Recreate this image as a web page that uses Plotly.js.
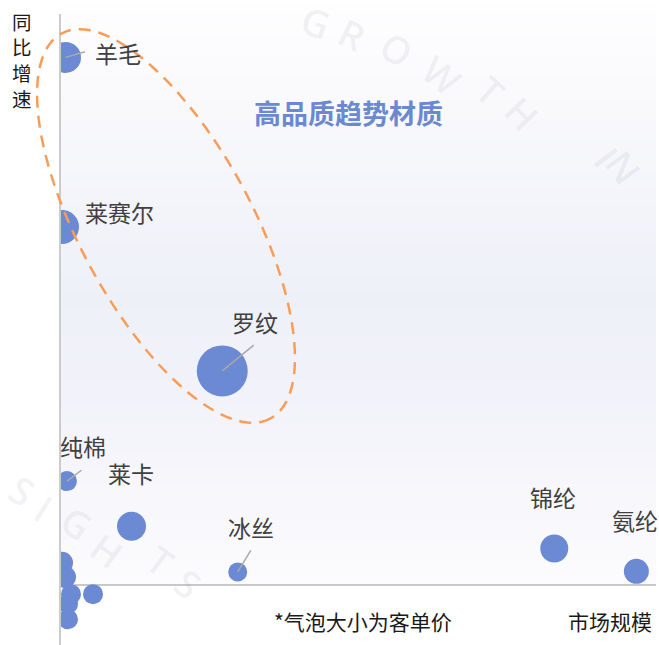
<!DOCTYPE html>
<html><head><meta charset="utf-8">
<script src="https://cdn.plot.ly/plotly-3.0.1.min.js"></script>
<style>html,body{margin:0;padding:0;background:#fff;}#chart{width:659px;height:645px;}</style>
</head><body><div id="chart"></div>
<script>
// ---- data ----
const materials  = ['羊毛', '莱赛尔', '罗纹', '纯棉', '莱卡', '冰丝', '锦纶', '氨纶'];
const marketSize = [0.76, 0.17, 27.1, 1.0, 11.85, 29.7, 82.9, 96.7];   // x: 市场规模
const yoyGrowth  = [92.4, 62.7, 37.5, 18.2, 10.3, 2.3, 6.4, 2.4];      // y: 同比增速
const unitPrice  = [31, 34, 51, 20, 29, 19, 28, 25];                   // bubble: 客单价

const otherMarketSize = [0.17, 0.67, 1.68, 1.18, 1.18, 5.38];
const otherGrowth     = [3.9, 1.4, -1.6, -3.3, -6.0, -1.6];
const otherUnitPrice  = [22, 22, 20, 20, 20, 20];

const yTitleChars = ['同', '比', '增', '速'];

// ---- layout helpers ----
const W = 659, H = 645, M = {l: 61, r: 3, t: 14, b: 0};
const plotW = W - M.l - M.r, plotH = H - M.t - M.b;
const px2paperX = px => (px - M.l) / plotW;
const px2paperY = py => (H - M.b - py) / plotH;
const FONT = '"Noto Sans CJK SC", "Noto Sans", sans-serif';
const BLUE = '#6b8ad3';

// label placement (pixel offsets from bubble centre)
const labelPos = {
  '羊毛':  {dx: 28.5, dy: 4.5,  lead: [21, -6]},
  '莱赛尔': {dx: 22,   dy: 15},
  '罗纹':  {dx: 8.5,  dy: 49,   lead: [33, -27]},
  '纯棉':  {dx: -8,   dy: 35,   lead: [16, -12]},
  '莱卡':  {dx: -24.5, dy: 53},
  '冰丝':  {dx: -10.5, dy: 45,  lead: [14, -23]},
  '锦纶':  {dx: -25,  dy: 51.5},
  '氨纶':  {dx: -25.5, dy: 51.5}
};

const traces = [
  {
    type: 'scatter', mode: 'markers',
    x: otherMarketSize, y: otherGrowth,
    marker: {size: otherUnitPrice, sizemode: 'diameter', sizeref: 1, color: BLUE, opacity: 1, line: {width: 0}},
    hoverinfo: 'skip', showlegend: false
  },
  {
    type: 'scatter', mode: 'markers',
    x: marketSize, y: yoyGrowth, text: materials,
    marker: {size: unitPrice, sizemode: 'diameter', sizeref: 1, color: BLUE, opacity: 1, line: {width: 0}},
    showlegend: false
  }
];

const annotations = [];

// faint watermark letters
const WM = 'rgba(60,60,80,0.07)';
const wmLetters = [
  ['G', 316, 22, 18], ['R', 352, 34, 26], ['O', 397, 49, 32], ['W', 442, 75, 38],
  ['T', 490, 90, 42], ['H', 522, 113, 46], ['I', 607, 157, 52], ['N', 624, 167, 54],
  ['S', 22, 490, 32], ['I', 44, 508, 32], ['G', 77, 523, 34], ['H', 107, 550, 36],
  ['T', 160, 560, 36], ['S', 188, 583, 36]
];
wmLetters.forEach(w => annotations.push({
  xref: 'paper', yref: 'paper', x: px2paperX(w[1]), y: px2paperY(w[2]),
  text: w[0], showarrow: false, textangle: w[3], xanchor: 'center', yanchor: 'middle',
  font: {family: '"Open Sans", sans-serif', size: 38, weight: 600, color: WM}
}));

materials.forEach((m, i) => {
  const p = labelPos[m];
  if (p.lead) {
    annotations.push({
      x: marketSize[i], y: yoyGrowth[i], xref: 'x', yref: 'y',
      ax: p.lead[0], ay: p.lead[1], text: '', showarrow: true,
      arrowhead: 0, arrowwidth: 1.5, arrowcolor: '#a9a9a9', standoff: 0, startstandoff: 0
    });
  }
  annotations.push({
    x: marketSize[i], y: yoyGrowth[i], xref: 'x', yref: 'y',
    text: m, showarrow: false, xanchor: 'left', yanchor: 'middle',
    xshift: p.dx, yshift: p.dy, borderpad: 0,
    font: {family: FONT, size: 23, color: '#404040'}
  });
});

yTitleChars.forEach((c, k) => annotations.push({
  xref: 'paper', yref: 'paper', x: px2paperX(21.5), y: px2paperY(21 + 25.8 * k),
  text: c, showarrow: false, xanchor: 'center', yanchor: 'middle', borderpad: 0,
  font: {family: FONT, size: 19.5, color: '#1a1a1a'}
}));

annotations.push(
  {xref: 'paper', yref: 'paper', x: px2paperX(363), y: px2paperY(621),
   text: '*气泡大小为客单价', showarrow: false, xanchor: 'center', yanchor: 'middle',
   font: {family: FONT, size: 21, color: '#1a1a1a'}},
  {xref: 'paper', yref: 'paper', x: px2paperX(609.5), y: px2paperY(621),
   text: '市场规模', showarrow: false, xanchor: 'center', yanchor: 'middle',
   font: {family: FONT, size: 21, color: '#1a1a1a'}},
  {xref: 'paper', yref: 'paper', x: px2paperX(348.5), y: px2paperY(113),
   text: '<b>高品质趋势材质</b>', showarrow: false, xanchor: 'center', yanchor: 'middle',
   font: {family: FONT, size: 27, color: '#6b89d1'}}
);

// background gradient bands (plot area above zero line)
const shapes = [];
const stops = [[0, [254, 254, 255]], [110, [249, 249, 252]], [300, [238, 240, 248]], [460, [245, 245, 251]], [585, [252, 252, 254]]];
function colAt(py) {
  for (let k = 0; k < stops.length - 1; k++) {
    const [a, ca] = stops[k], [b, cb] = stops[k + 1];
    if (py >= a && py <= b) {
      const t = (py - a) / (b - a);
      return 'rgb(' + ca.map((c, j) => Math.round(c + (cb[j] - c) * t)).join(',') + ')';
    }
  }
  return 'rgb(252,252,254)';
}
for (let py = 0; py < 585; py += 5) {
  const y1 = py, y2 = Math.min(py + 5, 585);
  shapes.push({type: 'rect', xref: 'paper', yref: 'paper', layer: 'below',
    x0: 0, x1: 1, y0: px2paperY(y2), y1: Math.min(1, px2paperY(y1)),
    fillcolor: colAt((y1 + y2) / 2), line: {width: 0}});
}

// dashed highlight ellipse (pixel geometry -> paper)
(function () {
  const cx = 166, cy = 226, a = 219, b = 86, th = 61.5 * Math.PI / 180;
  let d = '';
  for (let k = 0; k <= 120; k++) {
    const t = 2 * Math.PI * k / 120;
    const px = cx + a * Math.cos(t) * Math.cos(th) - b * Math.sin(t) * Math.sin(th);
    const py = cy + a * Math.cos(t) * Math.sin(th) + b * Math.sin(t) * Math.cos(th);
    d += (k === 0 ? 'M' : 'L') + px2paperX(px).toFixed(5) + ',' + px2paperY(py).toFixed(5);
  }
  d += 'Z';
  shapes.push({type: 'path', xref: 'paper', yref: 'paper', layer: 'above', path: d,
    line: {color: '#f79d58', width: 2.5, dash: '12px,8px'}, fillcolor: 'rgba(0,0,0,0)'});
})();

const layout = {
  width: W, height: H, margin: {l: M.l, r: M.r, t: M.t, b: M.b, pad: 0},
  paper_bgcolor: '#ffffff', plot_bgcolor: '#ffffff',
  showlegend: false,
  xaxis: {range: [0, 100], showgrid: false, zeroline: false, showline: false,
          showticklabels: false, ticks: '', fixedrange: true},
  yaxis: {range: [-10.5, 100], showgrid: false, zeroline: true, zerolinecolor: '#c8c8c8', zerolinewidth: 2,
          showline: true, linecolor: '#cbcbcb', linewidth: 2,
          showticklabels: false, ticks: '', fixedrange: true},
  annotations: annotations,
  shapes: shapes,
  font: {family: FONT}
};

Plotly.newPlot('chart', traces, layout, {displayModeBar: false, staticPlot: true});
</script>
</body></html>
